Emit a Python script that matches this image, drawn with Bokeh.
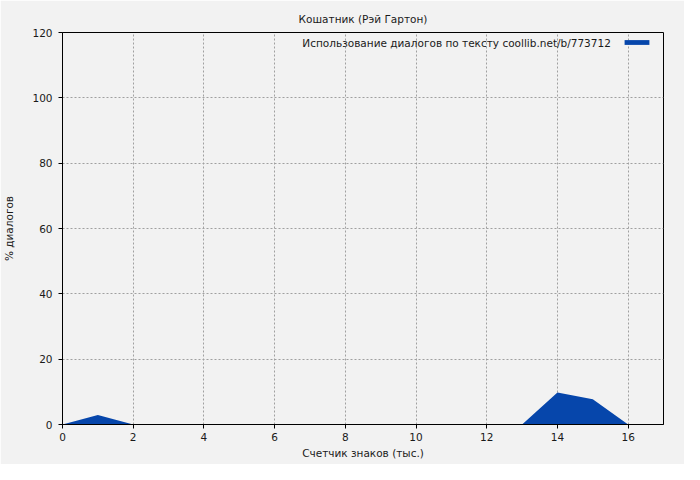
from bokeh.plotting import figure
from bokeh.models import Range1d, FixedTicker, Legend, LegendItem, Label
from bokeh.embed import file_html
from bokeh.resources import INLINE

x_vals = [0, 1, 2, 3, 4, 5, 6, 7, 8, 9, 10, 11, 12, 13, 14, 15, 16]
y_vals = [0, 2.9, 0, 0, 0, 0, 0, 0, 0, 0, 0, 0, 0, 0, 9.8, 7.7, 0]
x_ticks = [0, 2, 4, 6, 8, 10, 12, 14, 16]
y_ticks = [0, 20, 40, 60, 80, 100, 120]
title_text = "Кошатник (Рэй Гартон)"
legend_text = "Использование диалогов по тексту coollib.net/b/773712"
x_label = "Счетчик знаков (тыс.)"
y_label = "% диалогов"

FONT = "DejaVu Sans"
FS = "10.5px"
BG = "#f2f2f2"
BLUE = "#0646ab"
TXT = "#1a1a1a"

p = figure(width=684, height=464, output_backend="svg", toolbar_location=None,
           x_range=Range1d(0, 17), y_range=Range1d(0, 120),
           min_border_left=60, min_border_right=21, min_border_top=32, min_border_bottom=40)
p.background_fill_color = BG
p.border_fill_color = BG
p.outline_line_color = "black"
p.outline_line_width = 1

p.title.text = title_text
p.title.align = "center"
p.title.text_font = FONT
p.title.text_font_size = FS
p.title.text_font_style = "normal"
p.title.text_color = TXT
p.title.standoff = 15

r = p.varea(x=x_vals, y1=0, y2=y_vals, fill_color=BLUE)

for ax in (p.xaxis[0], p.yaxis[0]):
    ax.axis_line_color = "black"
    ax.major_tick_line_color = "black"
    ax.major_tick_out = 4
    ax.major_tick_in = 0
    ax.minor_tick_line_color = None
    ax.major_label_text_font = FONT
    ax.major_label_text_font_size = FS
    ax.major_label_text_color = TXT
    ax.axis_label_text_font = FONT
    ax.axis_label_text_font_size = FS
    ax.axis_label_text_font_style = "normal"
    ax.axis_label_text_color = TXT

p.xaxis[0].ticker = FixedTicker(ticks=x_ticks)
p.yaxis[0].ticker = FixedTicker(ticks=y_ticks)
p.xaxis[0].axis_label = x_label
p.yaxis[0].axis_label = y_label
p.xaxis[0].major_label_standoff = 4
p.yaxis[0].major_label_standoff = 6
p.xaxis[0].axis_label_standoff = 3
p.yaxis[0].axis_label_standoff = 14

p.grid.grid_line_color = "#a0a0a0"
p.grid.grid_line_dash = "2 2"
p.grid.grid_line_width = 1
p.xgrid[0].ticker = FixedTicker(ticks=x_ticks)
p.ygrid[0].ticker = FixedTicker(ticks=y_ticks)

legend = Legend(items=[LegendItem(label=" ", renderers=[r])],
                location=(559, 379))
legend.background_fill_alpha = 0
legend.border_line_color = None
legend.label_text_font = FONT
legend.label_text_font_size = FS
legend.glyph_width = 31
legend.glyph_height = 6
legend.label_standoff = 0
legend.label_width = 2
legend.margin = 0
legend.padding = 0
p.add_layout(legend)

p.add_layout(Label(x=15.51, y=116.9, text=legend_text, text_align="right",
                   text_baseline="middle", text_font=FONT, text_font_size=FS,
                   text_color=TXT))

open("out.html", "w").write(file_html(p, INLINE))
